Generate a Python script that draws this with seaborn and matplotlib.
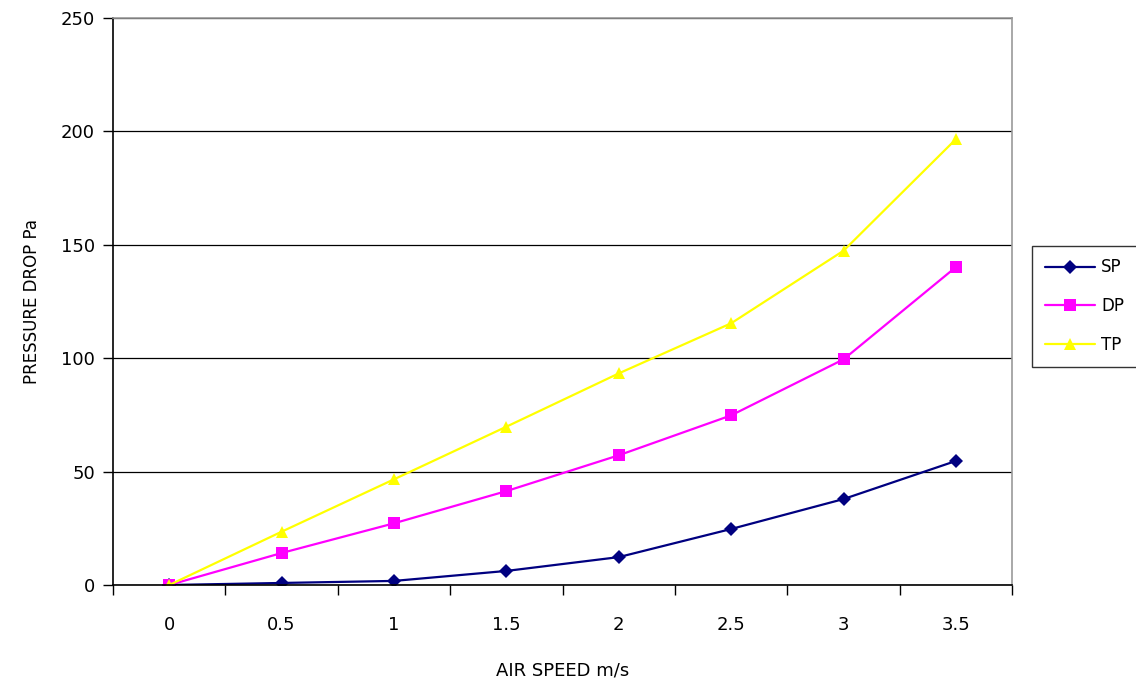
import numpy as np
import pandas as pd
import matplotlib
matplotlib.use("Agg")
import matplotlib.pyplot as plt
from matplotlib.lines import Line2D
import seaborn as sns

# values
air_speed = ["0", "0.5", "1", "1.5", "2", "2.5", "3", "3.5"]
sp = [0, 0.9, 1.8, 6.2, 12.3, 24.7, 37.9, 54.7]
dp = [0, 14.1, 27.2, 41.4, 57.2, 74.8, 99.5, 140.2]
tp = [0, 23.5, 46.6, 69.8, 93.3, 115.4, 147.4, 196.6]

series_names = ["SP", "DP", "TP"]
series_colors = ["#000080", "#FF00FF", "#FFFF00"]
series_markers = ["D", "s", "^"]
marker_sizes = [7, 8, 9]

df = pd.DataFrame({
    "speed": air_speed * 3,
    "pressure": sp + dp + tp,
    "series": np.repeat(series_names, len(air_speed)),
})

sns.set_style("white", {"xtick.bottom": True, "ytick.left": True})
plt.rcParams["font.family"] = ["DejaVu Sans"]
plt.rcParams["text.color"] = "black"
plt.rcParams["xtick.color"] = "black"
plt.rcParams["ytick.color"] = "black"
plt.rcParams["axes.labelcolor"] = "black"

fig = plt.figure(figsize=(11.36, 6.91), dpi=100)
ax = fig.add_axes([0.0995, 0.1534, 0.7915, 0.8206])

sns.pointplot(
    data=df, x="speed", y="pressure", hue="series",
    order=air_speed, hue_order=series_names,
    palette=series_colors, markers=series_markers, linestyles="-",
    errorbar=None, linewidth=1.6, ax=ax,
)

# per-series marker size
for line, ms in zip(ax.lines, marker_sizes):
    line.set_markersize(ms)
    line.set_markeredgewidth(0)
    line.set_linewidth(1.6)

ax.set_xlim(-0.5, len(air_speed) - 0.5)
ax.set_ylim(0, 250)
ax.set_yticks(np.arange(0, 251, 50))
ax.yaxis.grid(True, color="black", linewidth=0.9)
ax.set_axisbelow(True)

# category labels centred, tick marks between categories
ax.set_xticks(np.arange(len(air_speed)))
ax.set_xticklabels(air_speed)
ax.set_xticks(np.arange(-0.5, len(air_speed), 1.0), minor=True)
ax.tick_params(axis="x", which="major", bottom=False, length=0,
               labelsize=13, pad=22)
ax.tick_params(axis="x", which="minor", bottom=True, length=7, width=1,
               color="black", direction="out")
ax.tick_params(axis="y", left=True, length=7, width=1, color="black",
               direction="out", labelsize=13, pad=6)

for side in ["left", "bottom"]:
    ax.spines[side].set_color("black")
    ax.spines[side].set_linewidth(1.2)
for side in ["top", "right"]:
    ax.spines[side].set_visible(True)
    ax.spines[side].set_color("#999999")
    ax.spines[side].set_linewidth(1.2)

ax.set_xlabel("AIR SPEED m/s", fontsize=13, labelpad=20)
ax.set_ylabel("PRESSURE DROP Pa", fontsize=12, labelpad=14)

if ax.get_legend() is not None:
    ax.get_legend().remove()
handles = [
    Line2D([], [], color=c, marker=m, markersize=ms, markeredgewidth=0,
           linewidth=1.6)
    for c, m, ms in zip(series_colors, series_markers, marker_sizes)
]
leg = fig.legend(
    handles, series_names, loc="upper left", bbox_to_anchor=(0.9085, 0.644),
    frameon=True, fancybox=False, edgecolor="black", fontsize=12,
    handlelength=3.0, labelspacing=1.25, borderpad=0.75, handletextpad=0.4,
    borderaxespad=0,
)
leg.get_frame().set_linewidth(1.0)

fig.savefig("out.png", dpi=100)
